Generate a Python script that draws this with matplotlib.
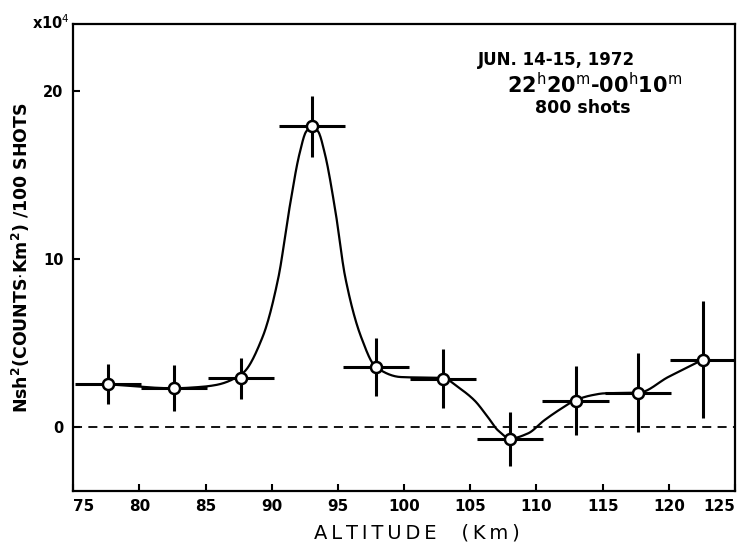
import numpy as np
import matplotlib
matplotlib.use("Agg")
import matplotlib.pyplot as plt

# ---- data ----
altitude = [77.6, 82.6, 87.7, 93.05, 97.9, 102.95, 108.0, 112.95, 117.7, 122.6]
value = [2.54, 2.30, 2.90, 17.9, 3.57, 2.88, -0.70, 1.57, 2.03, 4.01]
value_err = [1.18, 1.37, 1.23, 1.80, 1.70, 1.75, 1.60, 2.08, 2.35, 3.50]
alt_err = [2.5] * len(altitude)

# hand-drawn smooth curve, traced knots
curve_x = [77.6, 82.6, 84.6, 85.8, 87.8, 89.3, 90.5, 91.3, 92.1, 92.6, 93.05,
           93.5, 94.0, 94.8, 95.55, 96.75, 97.86, 99.75, 102.96, 104.05, 105.3,
           106.32, 107.08, 108.03, 109.35, 110.6, 111.87, 112.95, 114.14,
           115.15, 117.73, 119.95, 121.47, 122.6]
curve_y = [2.54, 2.30, 2.38, 2.5, 3.2, 5.35, 8.91, 12.88, 16.3, 17.6, 17.9,
           17.6, 16.3, 12.88, 8.91, 5.35, 3.57, 2.97, 2.91, 2.38, 1.59,
           0.59, -0.20, -0.69, -0.39, 0.40, 1.09, 1.59, 1.88,
           2.0, 2.04, 2.97, 3.57, 4.02]

x_ticks = [75, 80, 85, 90, 95, 100, 105, 110, 115, 120, 125]
y_ticks = [0, 10, 20]


def pchip(xk, yk, xs):
    xk = np.asarray(xk, float)
    yk = np.asarray(yk, float)
    h = np.diff(xk)
    delta = np.diff(yk) / h
    d = np.zeros_like(yk)
    for k in range(1, len(xk) - 1):
        if delta[k - 1] * delta[k] <= 0:
            d[k] = 0.0
        else:
            w1 = 2 * h[k] + h[k - 1]
            w2 = h[k] + 2 * h[k - 1]
            d[k] = (w1 + w2) / (w1 / delta[k - 1] + w2 / delta[k])
    d[0] = delta[0]
    d[-1] = delta[-1]
    idx = np.clip(np.searchsorted(xk, xs) - 1, 0, len(xk) - 2)
    t = (xs - xk[idx]) / h[idx]
    h00 = 2 * t**3 - 3 * t**2 + 1
    h10 = t**3 - 2 * t**2 + t
    h01 = -2 * t**3 + 3 * t**2
    h11 = t**3 - t**2
    return (h00 * yk[idx] + h10 * h[idx] * d[idx]
            + h01 * yk[idx + 1] + h11 * h[idx] * d[idx + 1])


plt.rcParams['font.family'] = ['DejaVu Sans']

fig = plt.figure(figsize=(7.47, 5.47), dpi=100)
ax = fig.add_axes([73.3 / 747, 1 - 490.7 / 547, (735 - 73.3) / 747, (490.7 - 24) / 547])

ax.set_xlim(75, 125)
ax.set_ylim(-3.8, 24.0)

# zero reference line
ax.axhline(0, color='black', lw=1.3, dashes=(5, 3.5), zorder=1)

# smooth curve
xs = np.linspace(curve_x[0], curve_x[-1], 1000)
ax.plot(xs, pchip(curve_x, curve_y, xs), color='black', lw=1.6, zorder=2)

# error crosses
ax.errorbar(altitude, value, xerr=alt_err, yerr=value_err, fmt='none',
            ecolor='black', elinewidth=2.2, capsize=0, zorder=3)
ax.plot(altitude, value, 'o', ms=8, mfc='white', mec='black', mew=1.8,
        zorder=4)

# axes styling
for s in ax.spines.values():
    s.set_linewidth(1.6)
ax.set_xticks(x_ticks)
ax.set_yticks(y_ticks)
ax.tick_params(direction='in', length=5, width=1.5, top=False, right=False)
ax.tick_params(axis='x', labelsize=11, pad=6)
ax.tick_params(axis='y', labelsize=10.5, pad=7)
for lab in ax.get_xticklabels() + ax.get_yticklabels():
    lab.set_fontweight('bold')
xlabs = ax.get_xticklabels()
xlabs[-1].set_horizontalalignment('right')
xlabs[0].set_horizontalalignment('left')

ax.set_xlabel('A\u2009L\u2009T\u2009I\u2009T\u2009U\u2009D\u2009E    (\u2009K\u2009m\u2009)',
              fontsize=14)
ax.xaxis.set_label_coords(0.519, -0.07)
ax.set_ylabel('Nsh$^{\\mathbf{2}}$(COUNTS$\\cdot$Km$^{\\mathbf{2}}$) /100 SHOTS',
              fontsize=12.5, fontweight='bold')
ax.yaxis.set_label_coords(-0.0624, 0.5)

fig.text(51 / 747, 1 - 23 / 547, 'x10$^{4}$', ha='center', va='center',
         fontsize=10.5, fontweight='bold')

ax.text(0.7305, 0.912, 'JUN. 14-15, 1972', transform=ax.transAxes,
        ha='center', va='baseline', fontsize=12, fontweight='bold')
ax.text(0.788, 0.852,
        '22$^{\\mathrm{h}}$20$^{\\mathrm{m}}$-00$^{\\mathrm{h}}$10$^{\\mathrm{m}}$',
        transform=ax.transAxes, ha='center', va='baseline', fontsize=15,
        fontweight='bold')
ax.text(0.7695, 0.809, '800 shots', transform=ax.transAxes,
        ha='center', va='baseline', fontsize=12.5, fontweight='bold')

fig.savefig('out.png', dpi=100)
